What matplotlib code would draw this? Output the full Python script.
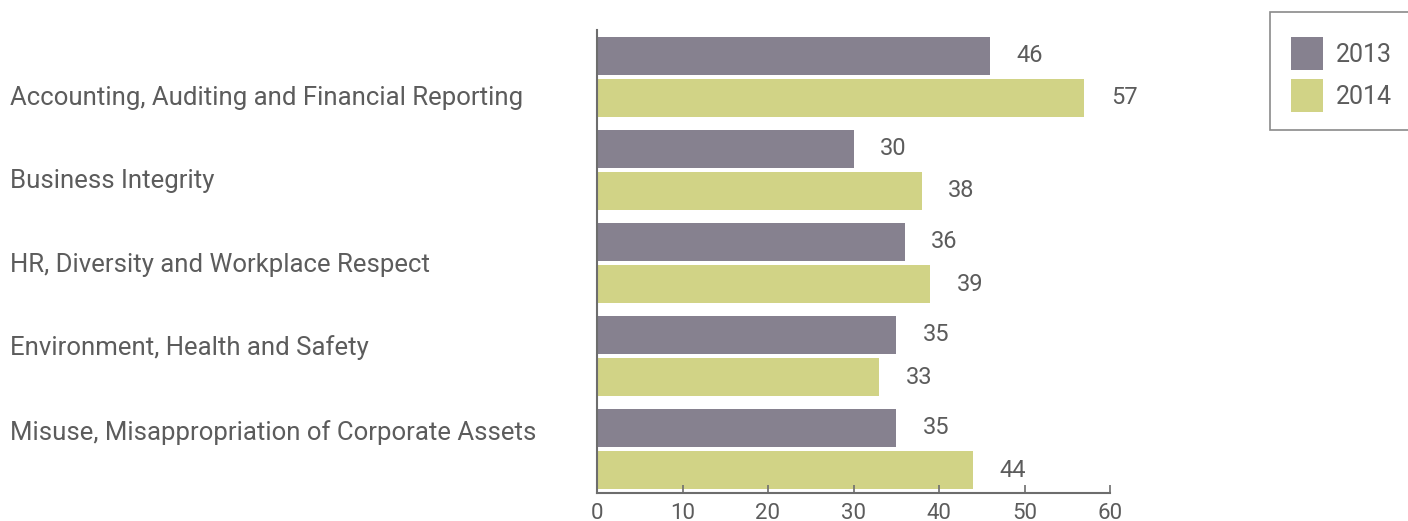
import matplotlib
matplotlib.use("Agg")
import matplotlib.pyplot as plt
from matplotlib.patches import Rectangle
import numpy as np

categories = [
    "Accounting, Auditing and Financial Reporting",
    "Business Integrity",
    "HR, Diversity and Workplace Respect",
    "Environment, Health and Safety",
    "Misuse, Misappropriation of Corporate Assets",
]
values_2013 = [46, 30, 36, 35, 35]
values_2014 = [57, 38, 39, 33, 44]
years = ["2013", "2014"]
xticks = [0, 10, 20, 30, 40, 50, 60]

c2013 = "#86818f"
c2014 = "#d1d386"
text_c = "#5c5c5c"
plt.rcParams["font.family"] = ["Roboto", "DejaVu Sans"]

W, H = 1408, 521
fig = plt.figure(figsize=(W / 100, H / 100), dpi=100)
ax = fig.add_axes([597 / W, (H - 493) / H, (1110 - 597) / W, (493 - 30) / H])

y = np.arange(len(categories))
bh = 0.409
off = 0.226
b1 = ax.barh(y - off, values_2013, height=bh, color=c2013)
b2 = ax.barh(y + off, values_2014, height=bh, color=c2014)

for bars, vals in [(b1, values_2013), (b2, values_2014)]:
    for rect, v in zip(bars, vals):
        ax.annotate(str(v), (v, rect.get_y() + rect.get_height() / 2),
                    xytext=(19, 0), textcoords="offset points",
                    ha="left", va="center", fontsize=17, color=text_c)

ax.set_xlim(0, 60)
ax.set_ylim(4.473, -0.505)
ax.set_xticks(xticks)
ax.set_yticks([])
ax.tick_params(axis="x", direction="in", length=6, width=1.2, colors="#6d6d6d",
               labelcolor=text_c, labelsize=16, pad=7)
for s in ["top", "right"]:
    ax.spines[s].set_visible(False)
for s in ["left", "bottom"]:
    ax.spines[s].set_color("#6d6d6d")
    ax.spines[s].set_linewidth(1.5)

# category labels sit at their own heights, left-aligned at the figure edge
label_y = [98, 181, 265, 348, 433]
for name, py in zip(categories, label_y):
    fig.text(10 / W, 1 - py / H, name, ha="left", va="center",
             fontsize=18.5, color=text_c)

# legend box drawn by hand in pixel units
def px(x0, y0, w, h):
    return (x0 / W, 1 - (y0 + h) / H), w / W, h / H

xy, w, h = px(1270, 12, 150, 118)
fig.patches.append(Rectangle(xy, w, h, transform=fig.transFigure,
                             facecolor="white", edgecolor="#8a8a8a", linewidth=1.2))
for i, (yr, col) in enumerate(zip(years, [c2013, c2014])):
    xy, w, h = px(1291, 37 + 42 * i, 32, 33)
    fig.patches.append(Rectangle(xy, w, h, transform=fig.transFigure,
                                 facecolor=col, edgecolor="none"))
    fig.text(1336 / W, 1 - (55 + 42 * i) / H, yr, ha="left", va="center",
             fontsize=18, color=text_c)

fig.savefig("out.png", dpi=100)
